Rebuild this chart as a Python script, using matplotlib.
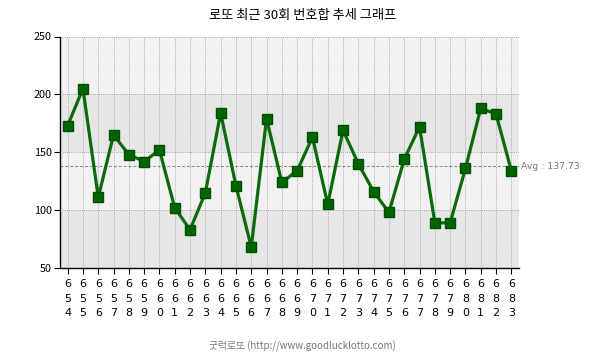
import matplotlib
matplotlib.use('Agg')
import matplotlib.pyplot as plt
import numpy as np

plt.rcParams['font.family'] = ['Noto Sans CJK KR', 'DejaVu Sans']

# --- Dados ---
rounds = [654, 655, 656, 657, 658, 659, 660, 661, 662, 663,
          664, 665, 666, 667, 668, 669, 670, 671, 672, 673,
          674, 675, 676, 677, 678, 679, 680, 681, 682, 683]
sums = [173, 205, 111, 165, 148, 142, 152, 102, 83, 115,
        184, 121, 68, 179, 124, 134, 163, 105, 169, 140,
        116, 98, 144, 172, 89, 89, 136, 188, 183, 134]
y_ticks = [50, 100, 150, 200, 250]
avg = np.mean(sums)

fig = plt.figure(figsize=(6.05, 3.59), dpi=100)
ax = fig.add_axes([60 / 605, 1 - 268 / 359, 459 / 605, 231.5 / 359])

x = np.arange(len(rounds))

# bandas de fundo
for i, (lo, hi) in enumerate(zip(y_ticks[:-1], y_ticks[1:])):
    ax.axhspan(lo, hi, color='#e6e6e6' if i % 2 == 0 else '#f1f1f1', zorder=0, lw=0)

for xi in x:
    ax.axvline(xi, color='#aaaaaa', linestyle=(0, (1, 1.2)), lw=0.7, zorder=1)
ax.axvline(29.5, color='#aaaaaa', linestyle=(0, (1, 1.2)), lw=0.7, zorder=1)
for yv in y_ticks[1:]:
    ax.axhline(yv, color='#aaaaaa', linestyle=(0, (1, 1.2)), lw=0.7, zorder=1)

ax.axhline(avg, color='#888888', linestyle=(0, (3, 2)), lw=0.7, zorder=2)
ax.text(29.62, avg, f'Avg : {avg:.2f}', color='#777777', fontsize=6.7,
        va='center', ha='left', family=['DejaVu Sans'])

ax.plot(x, sums, color='#0b6a0b', lw=2.3, marker='s', markersize=7,
        markerfacecolor='#006400', markeredgecolor='#005000', zorder=3)

ax.set_xlim(-0.5, 29.5)
ax.set_ylim(50, 250)
ax.set_yticks(y_ticks)
ax.set_yticklabels([str(v) for v in y_ticks], fontsize=7.8)
ax.set_xticks(x)
ax.set_xticklabels(['\n'.join(str(r)) for r in rounds], fontsize=8,
                   linespacing=1.55, va='top', family=['DejaVu Sans'])
ax.tick_params(axis='both', length=4, width=0.8, color='black', pad=2)
ax.tick_params(axis='x', pad=4)

for s in ['top', 'right']:
    ax.spines[s].set_visible(False)
ax.spines['left'].set_linewidth(1.0)
ax.spines['bottom'].set_linewidth(1.0)

fig.text(0.5, 1 - 16 / 359, '로또 최근 30회 번호합 추세 그래프', ha='center', va='center',
         fontsize=9.5)
fig.text(0.5, 1 - 346 / 359, '굿럭로또 (http://www.goodlucklotto.com)', ha='center',
         va='center', fontsize=7, color='#777777')

plt.savefig('out.png', dpi=100)
